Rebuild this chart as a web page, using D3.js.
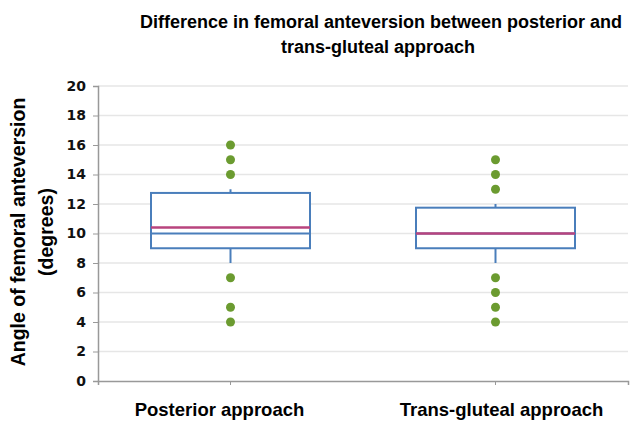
<!DOCTYPE html>
<html>
<head>
<meta charset="utf-8">
<script src="https://cdn.jsdelivr.net/npm/d3@7"></script>
<style>
  body { margin: 0; background: #fff; }
  svg { display: block; }
</style>
</head>
<body>
<svg id="chart" width="632" height="421"></svg>
<script>
// values
var categories = ["Posterior approach", "Trans-gluteal approach"];
var q1 = [9, 9];
var median = [10, 10];
var q3 = [12.75, 11.75];
var mean = [10.4, 10];
var whiskerLow = [8, 8];
var whiskerHigh = [13, 12];
var outliers = [[16, 15, 14, 7, 5, 4], [15, 14, 13, 7, 6, 5, 4]];
var yTicks = [0, 2, 4, 6, 8, 10, 12, 14, 16, 18, 20];

var svg = d3.select("#chart");
var plotLeft = 98, plotRight = 628, plotTop = 86, plotBottom = 381;

var x = d3.scaleBand().domain(categories).range([plotLeft, plotRight]);
var y = d3.scaleLinear().domain([0, 20]).range([plotBottom, plotTop]);

// gridlines
svg.append("g").selectAll("line")
    .data(yTicks.slice(1))
    .enter().append("line")
    .attr("x1", plotLeft).attr("x2", plotRight)
    .attr("y1", d => y(d)).attr("y2", d => y(d))
    .attr("stroke", "#e6e6e6").attr("stroke-width", 1.5);

// y axis
var yAxis = d3.axisLeft(y).tickValues(yTicks).tickSize(5).tickPadding(7);
var gy = svg.append("g").attr("transform", "translate(" + plotLeft + ",0)").call(yAxis);
gy.select(".domain").attr("stroke", "#999").attr("stroke-width", 1.5);
gy.selectAll(".tick line").attr("stroke", "#999");
gy.selectAll("text")
    .attr("font-family", "DejaVu Sans, sans-serif")
    .attr("font-size", 14).attr("font-weight", "bold").attr("fill", "#111");

// x axis
var xAxis = d3.axisBottom(x).tickSize(4).tickSizeOuter(4).tickFormat("");
var gx = svg.append("g").attr("transform", "translate(0," + plotBottom + ")").call(xAxis);
gx.select(".domain").attr("stroke", "#999").attr("stroke-width", 1.5);
gx.selectAll(".tick line").attr("stroke", "#999");

svg.append("g").selectAll("text")
    .data(categories)
    .enter().append("text")
    .attr("x", (d, i) => x(d) + x.bandwidth() / 2 + (i == 0 ? -11 : 6))
    .attr("y", 416)
    .attr("text-anchor", "middle")
    .attr("font-family", "Liberation Sans, Arial, sans-serif")
    .attr("font-size", 18.5).attr("font-weight", "bold")
    .text(d => d);

// boxes
var boxW = x.bandwidth() * 0.6;
var g = svg.append("g");
categories.forEach(function (c, i) {
    var cx = x(c) + x.bandwidth() / 2;
    g.append("line")
        .attr("x1", cx).attr("x2", cx)
        .attr("y1", y(q3[i])).attr("y2", y(whiskerHigh[i]))
        .attr("stroke", "#4a7ebb").attr("stroke-width", 2);
    g.append("line")
        .attr("x1", cx).attr("x2", cx)
        .attr("y1", y(q1[i])).attr("y2", y(whiskerLow[i]))
        .attr("stroke", "#4a7ebb").attr("stroke-width", 2);
    g.append("rect")
        .attr("x", cx - boxW / 2).attr("width", boxW)
        .attr("y", y(q3[i])).attr("height", y(q1[i]) - y(q3[i]))
        .attr("fill", "#fff").attr("stroke", "#4a7ebb").attr("stroke-width", 2);
    g.append("line")
        .attr("x1", cx - boxW / 2).attr("x2", cx + boxW / 2)
        .attr("y1", y(median[i])).attr("y2", y(median[i]))
        .attr("stroke", "#4a7ebb").attr("stroke-width", 2);
    g.append("line")
        .attr("x1", cx - boxW / 2).attr("x2", cx + boxW / 2)
        .attr("y1", y(mean[i])).attr("y2", y(mean[i]))
        .attr("stroke", "#b8447e").attr("stroke-width", 2.5);
    g.selectAll(null)
        .data(outliers[i])
        .enter().append("circle")
        .attr("cx", cx).attr("cy", d => y(d)).attr("r", 4.5)
        .attr("fill", "#6b9b30");
});

// title
var title = svg.append("text")
    .attr("text-anchor", "middle")
    .attr("font-family", "Liberation Sans, Arial, sans-serif")
    .attr("font-size", 18).attr("font-weight", "bold");
title.append("tspan").attr("x", 381).attr("y", 28).text("Difference in femoral anteversion between posterior and");
title.append("tspan").attr("x", 378).attr("y", 53).text("trans-gluteal approach");

// y label
var ylab = svg.append("text")
    .attr("transform", "translate(0,232) rotate(-90)")
    .attr("text-anchor", "middle")
    .attr("font-family", "Liberation Sans, Arial, sans-serif")
    .attr("font-size", 19.5).attr("font-weight", "bold");
ylab.append("tspan").attr("x", 0).attr("y", 25).text("Angle of femoral anteversion");
ylab.append("tspan").attr("x", 0).attr("y", 53).text("(degrees)");
</script>
</body>
</html>
